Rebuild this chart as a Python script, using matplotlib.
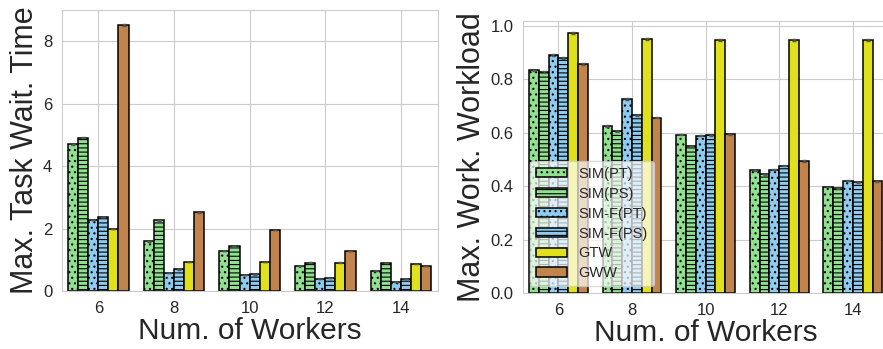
import numpy as np
import matplotlib
matplotlib.use("Agg")
import matplotlib.pyplot as plt
import seaborn as sns

sns.set_style("whitegrid")
plt.rcParams['font.family'] = ['Liberation Sans', 'DejaVu Sans']
plt.rcParams['hatch.linewidth'] = 0.8

workers = [6, 8, 10, 12, 14]
methods = ['SIM(PT)', 'SIM(PS)', 'SIM-F(PT)', 'SIM-F(PS)', 'GTW', 'GWW']

# max task waiting time per method
wait_sim_pt = [4.70, 1.59, 1.28, 0.81, 0.64]
wait_sim_ps = [4.91, 2.26, 1.43, 0.91, 0.89]
wait_simf_pt = [2.27, 0.59, 0.50, 0.37, 0.30]
wait_simf_ps = [2.37, 0.69, 0.53, 0.41, 0.37]
wait_gtw = [1.99, 0.94, 0.92, 0.91, 0.86]
wait_gww = [8.53, 2.52, 1.95, 1.29, 0.81]

# max worker workload per method
load_sim_pt = [0.834, 0.626, 0.593, 0.461, 0.398]
load_sim_ps = [0.829, 0.606, 0.550, 0.446, 0.393]
load_simf_pt = [0.890, 0.726, 0.590, 0.463, 0.421]
load_simf_ps = [0.881, 0.666, 0.591, 0.478, 0.415]
load_gtw = [0.974, 0.951, 0.949, 0.949, 0.949]
load_gww = [0.859, 0.657, 0.595, 0.495, 0.419]

wait = [wait_sim_pt, wait_sim_ps, wait_simf_pt, wait_simf_ps, wait_gtw, wait_gww]
load = [load_sim_pt, load_sim_ps, load_simf_pt, load_simf_ps, load_gtw, load_gww]

colors = ['#90e090', '#90e090', '#8ecbef', '#8ecbef', '#e0e01c', '#c0844c']
hatches = ['...', '----', '...', '----', '', '']

fig = plt.figure(figsize=(8.83, 3.49), dpi=100)
ax1 = fig.add_axes([0.0702, 0.1662, 0.4258, 0.8052])
ax2 = fig.add_axes([0.5923, 0.1596, 0.4145, 0.7811])

x = np.arange(len(workers))
w = 0.8 / 6

def draw(ax, data):
    for i in range(6):
        pos = x - 0.4 + w * (i + 0.5)
        ax.bar(pos, data[i], w, color=colors[i], hatch=hatches[i],
               edgecolor='black', linewidth=1.1, label=methods[i],
               yerr=np.array(data[i]) * 0.004, capsize=1.5,
               error_kw=dict(ecolor='#555555', elinewidth=1))
    ax.set_xticks(x)
    ax.set_xticklabels(workers, fontsize=12)
    ax.tick_params(axis='y', labelsize=12)
    ax.set_xlim(-0.48, 4.49)
    ax.set_xlabel('Num. of Workers', fontsize=21.5, labelpad=1)
    for s in ax.spines.values():
        s.set_color('#cccccc')

draw(ax1, wait)
ax1.set_ylim(0, 9)
ax1.set_yticks([0, 2, 4, 6, 8])
ax1.set_ylabel('Max. Task Wait. Time', fontsize=22, labelpad=2)

draw(ax2, load)
ax2.set_ylim(0, 1.02)
ax2.set_yticks([0.0, 0.2, 0.4, 0.6, 0.8, 1.0])
ax2.set_ylabel('Max. Work. Workload', fontsize=22, labelpad=2)
ax2.legend(loc='lower left', bbox_to_anchor=(0.0, 0.0), fontsize=10.5,
           handlelength=2.1, handleheight=0.6, labelspacing=0.4,
           framealpha=0.7)

fig.savefig('out.png', dpi=100)
